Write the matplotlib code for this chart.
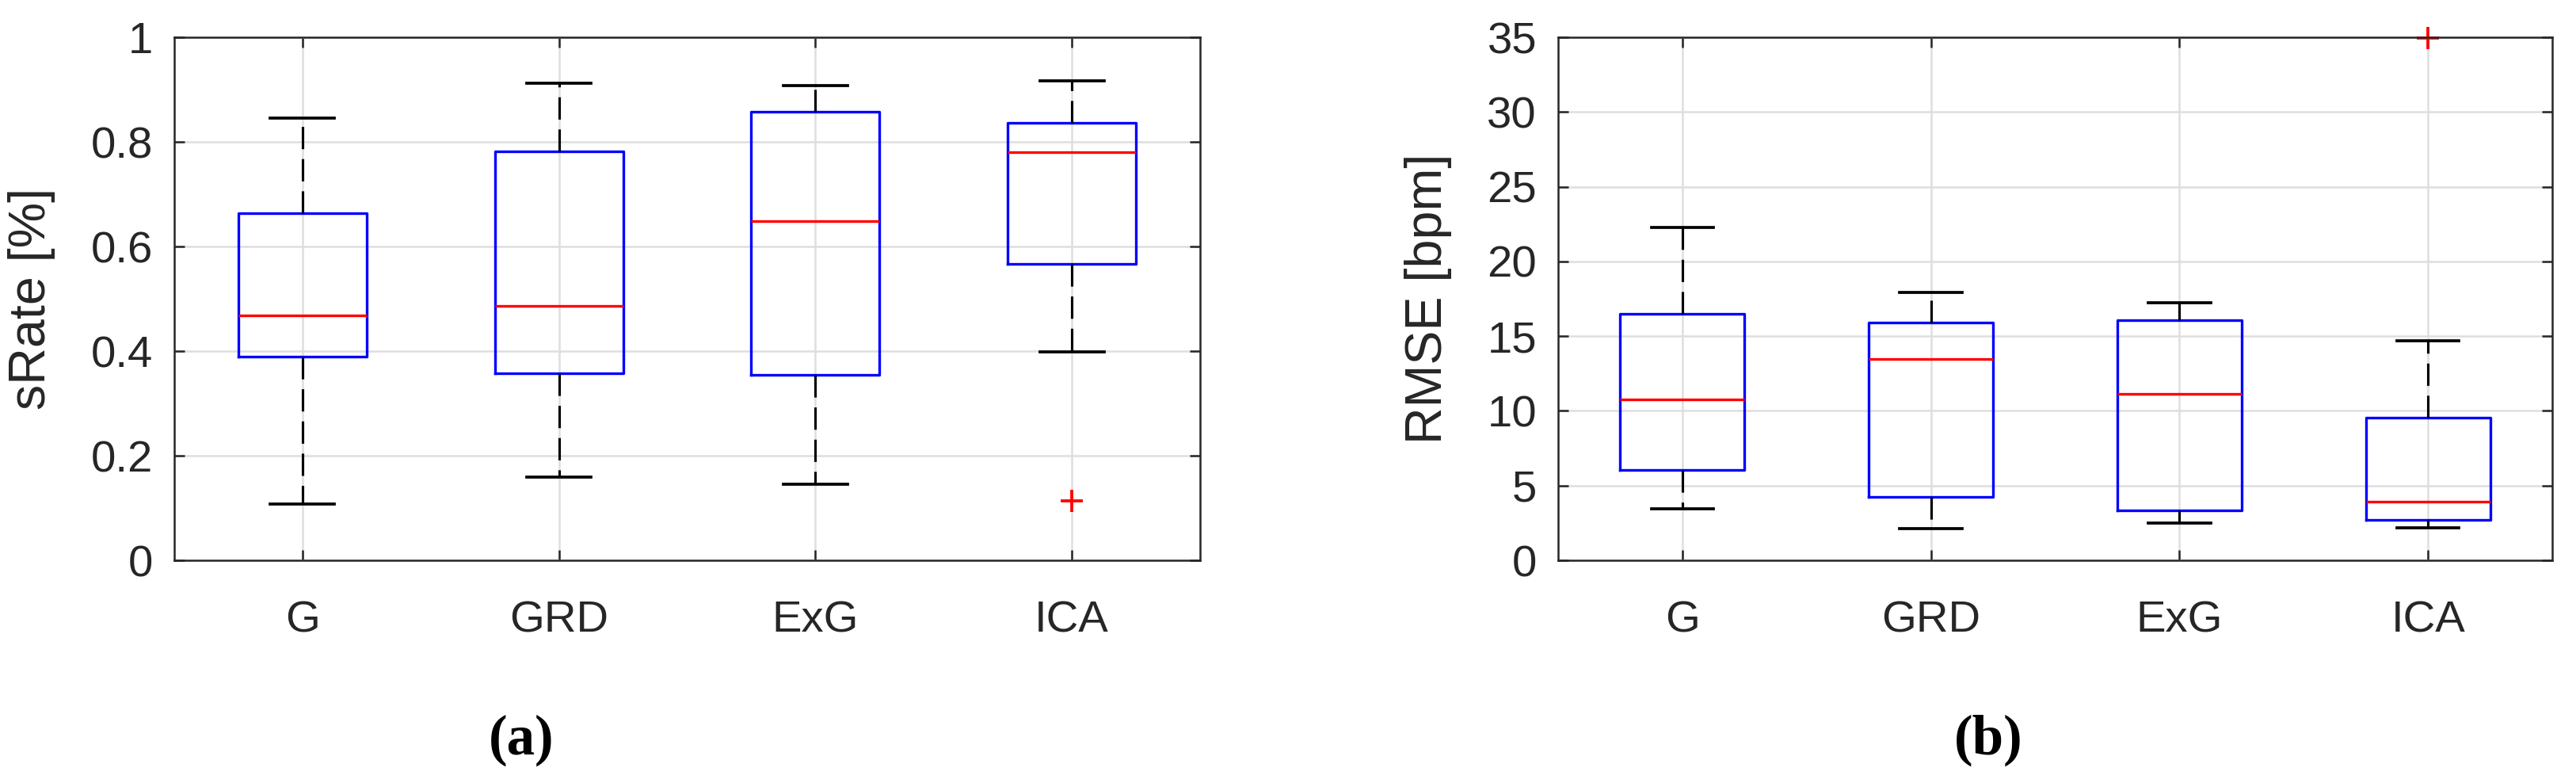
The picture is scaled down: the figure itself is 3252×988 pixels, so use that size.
import matplotlib
matplotlib.use('Agg')
import matplotlib.pyplot as plt

methods = ['G', 'GRD', 'ExG', 'ICA']

srate_whislo = [0.108, 0.159, 0.146, 0.398]
srate_q1 = [0.389, 0.357, 0.354, 0.566]
srate_med = [0.468, 0.486, 0.648, 0.780]
srate_q3 = [0.663, 0.782, 0.858, 0.837]
srate_whishi = [0.846, 0.912, 0.908, 0.916]
srate_fliers = [[], [], [], [0.113]]

rmse_whislo = [3.46, 2.11, 2.50, 2.15]
rmse_q1 = [6.02, 4.23, 3.34, 2.72]
rmse_med = [10.74, 13.46, 11.15, 3.92]
rmse_q3 = [16.49, 15.93, 16.05, 9.54]
rmse_whishi = [22.25, 17.91, 17.25, 14.70]
rmse_fliers = [[], [], [], [34.93]]

srate_ticks = [0, 0.2, 0.4, 0.6, 0.8, 1]
srate_ticklabels = ['0', '0.2', '0.4', '0.6', '0.8', '1']
rmse_ticks = [0, 5, 10, 15, 20, 25, 30, 35]

plt.rcParams['font.family'] = ['Liberation Sans', 'DejaVu Sans']

W, H = 3252, 988
fig = plt.figure(figsize=(W / 300, H / 300), dpi=300)
ax1 = fig.add_axes([220 / W, 1 - 707 / H, (1515 - 220) / W, 660 / H])
ax2 = fig.add_axes([1967 / W, 1 - 707 / H, (3222 - 1967) / W, 660 / H])

AXC = '#262626'


def make_stats(lo, q1, med, q3, hi, fl):
    out = []
    for i in range(len(med)):
        out.append(dict(whislo=lo[i], q1=q1[i], med=med[i], q3=q3[i],
                        whishi=hi[i], fliers=fl[i], label=methods[i]))
    return out


def draw(ax, stats, ylim, yticks, yticklabels, ylabel, label_x):
    res = ax.bxp(stats, positions=[1, 2, 3, 4], widths=0.5, showfliers=True,
                 boxprops=dict(color='#0000ff', linewidth=0.8),
                 medianprops=dict(color='#ff0000', linewidth=0.8),
                 whiskerprops=dict(color='black', linewidth=0.75,
                                   linestyle=(0, (9, 4))),
                 capprops=dict(color='black', linewidth=0.9),
                 flierprops=dict(marker='+', markeredgecolor='#ff0000',
                                 markersize=6.5, markeredgewidth=0.9,
                                 linestyle='none'))
    for f in res['fliers']:
        f.set_clip_on(False)
    ax.set_xlim(0.5, 4.5)
    ax.set_ylim(*ylim)
    ax.set_yticks(yticks)
    ax.set_yticklabels(yticklabels)
    ax.set_xticks([1, 2, 3, 4])
    ax.set_xticklabels(methods)
    ax.grid(True, color='#dedede', linewidth=0.6)
    ax.set_axisbelow(True)
    for s in ax.spines.values():
        s.set_color(AXC)
        s.set_linewidth(0.6)
    ax.tick_params(direction='in', length=3.1, width=0.6, color=AXC,
                   labelcolor=AXC, labelsize=13.5, top=True, right=True)
    ax.tick_params(axis='y', pad=6.5)
    ax.tick_params(axis='x', pad=12)
    ax.set_ylabel(ylabel, fontsize=15.5, color=AXC)
    ax.yaxis.set_label_coords(label_x, 0.5)


draw(ax1, make_stats(srate_whislo, srate_q1, srate_med, srate_q3, srate_whishi, srate_fliers),
     (0, 1), srate_ticks, srate_ticklabels, 'sRate [%]', -0.116)
draw(ax2, make_stats(rmse_whislo, rmse_q1, rmse_med, rmse_q3, rmse_whishi, rmse_fliers),
     (0, 35), rmse_ticks, [str(t) for t in rmse_ticks], 'RMSE [bpm]', -0.107)

fig.text(658 / W, 1 - 934 / H, '(a)', ha='center', va='center', fontsize=17,
         fontweight='bold', family=['Liberation Serif', 'DejaVu Serif'])
fig.text(2510 / W, 1 - 934 / H, '(b)', ha='center', va='center', fontsize=17,
         fontweight='bold', family=['Liberation Serif', 'DejaVu Serif'])

fig.savefig('out.png', dpi=300, facecolor='white')
